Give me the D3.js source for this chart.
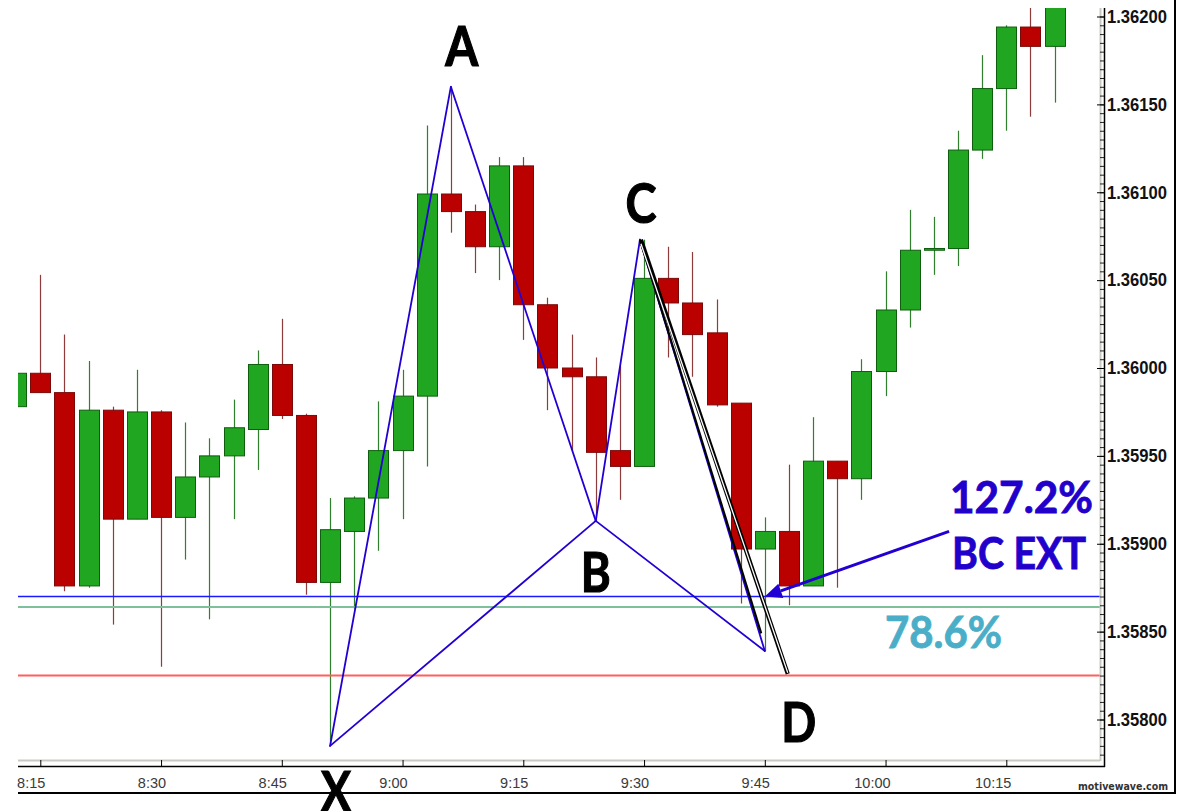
<!DOCTYPE html>
<html><head><meta charset="utf-8">
<script src="https://cdn.jsdelivr.net/npm/d3@7"></script>
<style>html,body{margin:0;padding:0;background:#fff;} svg{display:block}</style>
</head><body><svg id="c" width="1187" height="811"></svg>
<script>
// ---------- DATA ----------
const barStart = "8:12";      // time of the first (clipped) bar
const barMinutes = 3;         // bar period
const openP  = [1.35978,1.35997,1.35986,1.35876,1.35976,1.35914,1.35975,1.35915,1.35938,1.35950,1.35965,1.36002,1.35973,1.35878,1.35907,1.35926,1.35953,1.35984,1.36099,1.36089,1.36069,1.36115,1.36036,1.36000,1.35995,1.35953,1.35944,1.36051,1.36037,1.36020,1.35980,1.35897,1.35907,1.35876,1.35947,1.35937,1.35998,1.36033,1.36067,1.36068,1.36124,1.36159,1.36194,1.36183];
const highP  = [1.36002,1.36053,1.36019,1.36004,1.35978,1.35999,1.35976,1.35969,1.35960,1.35982,1.36010,1.36028,1.35974,1.35926,1.35927,1.35981,1.35999,1.36138,1.36160,1.36093,1.36120,1.36120,1.36040,1.36019,1.36006,1.36001,1.36073,1.36069,1.36066,1.36039,1.35980,1.35915,1.35945,1.35972,1.35947,1.36005,1.36055,1.36090,1.36086,1.36135,1.36178,1.36195,1.36215,1.36230];
const lowP   = [1.35970,1.35986,1.35873,1.35875,1.35854,1.35914,1.35830,1.35891,1.35857,1.35914,1.35942,1.35971,1.35871,1.35785,1.35863,1.35896,1.35914,1.35944,1.36077,1.36054,1.36050,1.36016,1.35976,1.35953,1.35913,1.35925,1.35944,1.36006,1.35995,1.35978,1.35866,1.35839,1.35865,1.35876,1.35875,1.35925,1.35984,1.36023,1.36053,1.36058,1.36119,1.36135,1.36143,1.36151];
const closeP = [1.35997,1.35986,1.35876,1.35976,1.35914,1.35975,1.35915,1.35938,1.35950,1.35966,1.36002,1.35973,1.35878,1.35908,1.35926,1.35953,1.35984,1.36099,1.36089,1.36069,1.36115,1.36036,1.36000,1.35995,1.35952,1.35944,1.36051,1.36037,1.36019,1.35979,1.35897,1.35907,1.35876,1.35947,1.35937,1.35998,1.36033,1.36067,1.36068,1.36124,1.36159,1.36194,1.36183,1.36225];

const timeTickLabels = ["8:15","8:30","8:45","9:00","9:15","9:30","9:45","10:00","10:15"];
const priceTicks = [1.35800,1.35850,1.35900,1.35950,1.36000,1.36050,1.36100,1.36150,1.36200];

const levelNames  = ["BC ext 127.2%","XA 78.6%","target"];
const levelPrices = [1.35870,1.35864,1.35825];

const patternNames  = ["X","A","B","C","D"];
const patternBars   = [13,18,24,25.83,31];
const patternPrices = [1.35785,1.36160,1.35913,1.36073,1.35839];

const cLegEndBars   = [30.85,31.95];
const cLegEndPrices = [1.35849,1.35826];

const arrowBars   = [38.63,31];
const arrowPrices = [1.35907,1.35870];

const noteTexts = ["127.2%","BC EXT","78.6%"];
const brand = "motivewave.com";

// ---------- LAYOUT ----------
const svg = d3.select("#c");
const P = {l:18, r:1100, t:8, b:760};
const base = new Date(2020,0,1,+barStart.split(":")[0],+barStart.split(":")[1]);
const barTime = i => new Date(+base + i*barMinutes*60000);
const parseHM = s => new Date(2020,0,1,+s.split(":")[0],+s.split(":")[1]);
const n = openP.length;

const x = d3.scaleTime().domain([barTime(0), barTime(n-1)]).range([16.15, 1054.6]);
const y = d3.scaleLinear().domain([1.358, 1.362]).range([719.5, 16.5]);
const xb = i => x(barTime(i));

svg.append("rect").attr("width",1187).attr("height",811).attr("fill","#fff");
svg.append("defs").append("clipPath").attr("id","plot")
  .append("rect").attr("x",P.l).attr("y",P.t).attr("width",P.r-P.l).attr("height",P.b-P.t);

const g = svg.append("g").attr("clip-path","url(#plot)");

// candles
const bars = d3.range(n).map(i=>({i,o:openP[i],h:highP[i],l:lowP[i],c:closeP[i],up:closeP[i]>=openP[i]}));
const cg = g.append("g");
cg.selectAll("line.w").data(bars).join("line")
  .attr("x1",d=>Math.round(xb(d.i))+0.5).attr("x2",d=>Math.round(xb(d.i))+0.5)
  .attr("y1",d=>y(d.h)).attr("y2",d=>y(d.l))
  .attr("stroke",d=>d.up?"#2f7f2f":"#8e3b3b").attr("stroke-width",1.2);
cg.selectAll("rect.b").data(bars).join("rect")
  .attr("x",d=>Math.round(xb(d.i))-9.5).attr("width",20)
  .attr("y",d=>y(Math.max(d.o,d.c)))
  .attr("height",d=>Math.max(1.5,Math.abs(y(d.o)-y(d.c))))
  .attr("fill",d=>d.up?"#21a621":"#bb0000")
  .attr("stroke",d=>d.up?"#0d5f0d":"#7a0a0a").attr("stroke-width",1);

// horizontal levels
const levelColors = ["#1a1aff","#7fbf9c","#ff5f5f"];
const levelWidths = [1.4,2,2];
g.selectAll("line.lvl").data(levelPrices).join("line")
  .attr("x1",P.l).attr("x2",P.r).attr("y1",d=>y(d)).attr("y2",d=>y(d))
  .attr("stroke",(d,i)=>levelColors[i]).attr("stroke-width",(d,i)=>levelWidths[i]);

// pattern
const pt = patternNames.map((k,i)=>({k,x:xb(patternBars[i]),y:y(patternPrices[i])}));
const P_ = Object.fromEntries(pt.map(d=>[d.k,d]));
const segs = [["X","A"],["A","B"],["X","B"],["B","C"],["C","D"],["B","D"]];
g.selectAll("line.pat").data(segs).join("line")
  .attr("x1",d=>P_[d[0]].x).attr("y1",d=>P_[d[0]].y)
  .attr("x2",d=>P_[d[1]].x).attr("y2",d=>P_[d[1]].y)
  .attr("stroke","#2200d4").attr("stroke-width",1.8).attr("stroke-linecap","round");

// black projection lines from C
const C = P_.C;
const e1 = {x:xb(cLegEndBars[0]), y:y(cLegEndPrices[0])};
const e2 = {x:xb(cLegEndBars[1]), y:y(cLegEndPrices[1])};
g.append("line").attr("x1",C.x).attr("y1",C.y).attr("x2",e1.x).attr("y2",e1.y)
  .attr("stroke","#000").attr("stroke-width",2.2);
g.append("line").attr("x1",C.x+1).attr("y1",C.y).attr("x2",e2.x).attr("y2",e2.y)
  .attr("stroke","#000").attr("stroke-width",4.2);
g.append("line").attr("x1",C.x+1).attr("y1",C.y+4).attr("x2",e2.x).attr("y2",e2.y-1)
  .attr("stroke","#fff").attr("stroke-width",1.3);

// arrow
const a0 = {x:xb(arrowBars[0]), y:y(arrowPrices[0])};
const a1 = {x:xb(arrowBars[1]), y:y(arrowPrices[1])};
const ang = Math.atan2(a1.y-a0.y, a1.x-a0.x);
const hl = 17, hw = 7.5;
const bx = a1.x - hl*Math.cos(ang), by = a1.y - hl*Math.sin(ang);
svg.append("line").attr("x1",a0.x).attr("y1",a0.y).attr("x2",bx).attr("y2",by)
  .attr("stroke","#2200d4").attr("stroke-width",3);
svg.append("path").attr("d",d3.line()([
  [a1.x,a1.y],
  [bx - hw*Math.sin(ang), by + hw*Math.cos(ang)],
  [bx + hw*Math.sin(ang), by - hw*Math.cos(ang)]
])+"Z").attr("fill","#2200d4");

// pattern letters
const letterOff = {X:[6,65,30],A:[11,-21,33],B:[0,71,30],C:[1,-17,31],D:[34,91,35]};
svg.selectAll("text.pl").data(pt).join("text")
  .attr("x",d=>d.x+letterOff[d.k][0]).attr("y",d=>d.y+letterOff[d.k][1])
  .attr("text-anchor","middle")
  .attr("textLength",d=>letterOff[d.k][2]).attr("lengthAdjust","spacingAndGlyphs")
  .style("font-family","Lato, 'Open Sans', sans-serif").style("font-weight",700)
  .style("font-size","56px").attr("fill","#000")
  .attr("stroke","#000").attr("stroke-width",1.2).text(d=>d.k);

// notes
const notePos = [[950,513,143,"#2200cc"],[952,569,134,"#2200cc"],[885,648,117,"#4aaec8"]];
svg.selectAll("text.note").data(noteTexts).join("text")
  .attr("x",(d,i)=>notePos[i][0]).attr("y",(d,i)=>notePos[i][1])
  .attr("textLength",(d,i)=>notePos[i][2]).attr("lengthAdjust","spacingAndGlyphs")
  .style("font-family","Lato, 'Open Sans', sans-serif").style("font-weight",700)
  .style("font-size","43px").attr("fill",(d,i)=>notePos[i][3])
  .attr("stroke",(d,i)=>notePos[i][3]).attr("stroke-width",0.8).text(d=>d);

// ---------- AXES / FRAME ----------
svg.append("line").attr("x1",P.l).attr("x2",P.r).attr("y1",P.b+0.5).attr("y2",P.b+0.5)
  .attr("stroke","#c9c9c2").attr("stroke-width",2);
svg.append("line").attr("x1",P.r+0.5).attr("x2",P.r+0.5).attr("y1",P.t).attr("y2",P.b+1)
  .attr("stroke","#c9c9c2").attr("stroke-width",2);

// time axis
const tAx = d3.axisBottom(x).tickValues(timeTickLabels.map(parseHM)).tickSize(6)
  .tickFormat(d3.timeFormat("%-H:%M"));
const tg = svg.append("g").attr("transform",`translate(0,${P.b})`).call(tAx);
tg.select(".domain").remove();
tg.selectAll(".tick line").attr("stroke","#000").attr("stroke-width",1);
tg.selectAll(".tick text").attr("text-anchor","end").attr("x",4.5).attr("y",28).attr("dy",null)
  .style("font-family","'Liberation Sans Narrow','Arial Narrow',sans-serif")
  .style("font-size","14.5px").attr("fill","#3a3a3a");
svg.append("line").attr("x1",P.l).attr("x2",1105).attr("y1",766.5).attr("y2",766.5)
  .attr("stroke","#000").attr("stroke-width",1.5);

// price axis
const minor = d3.range(27150,27250).map(k=>k*0.00005)
  .filter(v=>y(v)>=P.t && y(v)<=P.b);
const mAx = d3.axisRight(y).tickValues(minor).tickSize(-4).tickFormat("");
const mg = svg.append("g").attr("transform","translate(1104,0)").call(mAx);
mg.select(".domain").remove();
mg.selectAll(".tick line").attr("stroke","#222");
const yAx = d3.axisRight(y).tickValues(priceTicks).tickSize(-7).tickPadding(3)
  .tickFormat(d3.format(".5f"));
const yg = svg.append("g").attr("transform","translate(1104,0)").call(yAx);
yg.select(".domain").remove();
yg.selectAll(".tick line").attr("stroke","#000");
yg.selectAll(".tick text").attr("textLength",60).attr("lengthAdjust","spacingAndGlyphs")
  .style("font-family","'Liberation Sans Narrow','Arial Narrow',sans-serif")
  .style("font-weight",700).style("font-size","18px").attr("fill","#111");
svg.append("line").attr("x1",1104.5).attr("x2",1104.5).attr("y1",P.t).attr("y2",767)
  .attr("stroke","#000").attr("stroke-width",1.5);

// outer frame
svg.append("line").attr("x1",1175).attr("x2",1175).attr("y1",0).attr("y2",794)
  .attr("stroke","#000").attr("stroke-width",2);
svg.append("line").attr("x1",P.l).attr("x2",1176).attr("y1",793).attr("y2",793)
  .attr("stroke","#000").attr("stroke-width",2);

svg.append("text").attr("x",1168).attr("y",790).attr("text-anchor","end")
  .attr("textLength",90).attr("lengthAdjust","spacingAndGlyphs")
  .style("font-family","'DejaVu Sans',sans-serif").style("font-weight",700)
  .style("font-size","10px").attr("fill","#333").text(brand);
</script></body></html>
